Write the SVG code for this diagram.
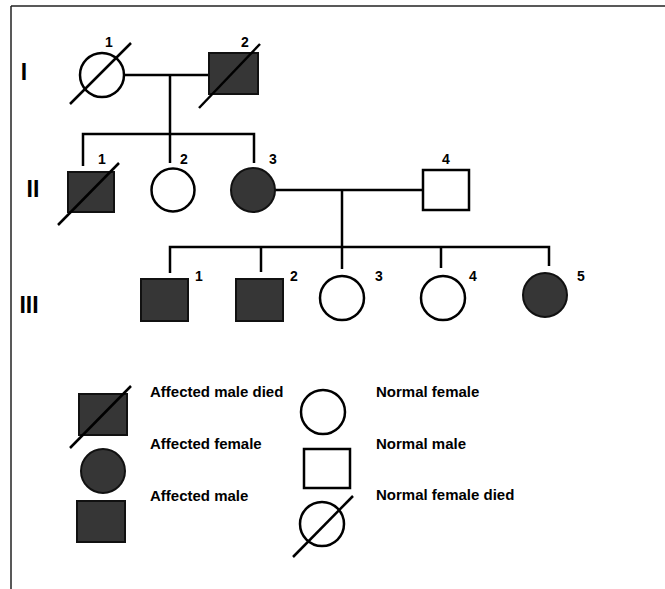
<svg xmlns="http://www.w3.org/2000/svg" width="665" height="589" viewBox="0 0 665 589">
<style>
.ln{stroke:#000;stroke-width:2.5;fill:none}
.open{stroke:#000;stroke-width:2.5;fill:#fff}
.aff{stroke:#111;stroke-width:2;fill:#363636}
.sl{stroke:#000;stroke-width:2.5}
.num{font-family:"Liberation Sans",Arial,sans-serif;font-weight:bold;font-size:14px;fill:#000}
.gen{font-family:"Liberation Sans",Arial,sans-serif;font-weight:bold;font-size:23px;fill:#000}
.lg{font-family:"Liberation Sans",Arial,sans-serif;font-weight:bold;font-size:15px;fill:#000}
</style>
<rect width="665" height="589" fill="#fff"/>
<g id="frame">
<line x1="11" y1="6" x2="665" y2="6" stroke="#222" stroke-width="1.5"/>
<line x1="11" y1="6" x2="11" y2="589" stroke="#222" stroke-width="1.5"/>
</g>
<g id="generations">
<text class="gen" x="24" y="80" text-anchor="middle">I</text>
<text class="gen" x="33" y="197" text-anchor="middle">II</text>
<text class="gen" x="29" y="313" text-anchor="middle">III</text>
</g>
<g id="connectors">
<line class="ln" x1="125" y1="75" x2="209" y2="75"/>
<line class="ln" x1="170" y1="75" x2="170" y2="134"/>
<polyline class="ln" points="83,166 83,134 254,134 254,163"/>
<line class="ln" x1="170" y1="134" x2="170" y2="163"/>
<line class="ln" x1="275" y1="190" x2="423" y2="190"/>
<line class="ln" x1="342" y1="190" x2="342" y2="269"/>
<polyline class="ln" points="170,273 170,247 549,247 549,266"/>
<line class="ln" x1="261" y1="247" x2="261" y2="272"/>
<line class="ln" x1="441" y1="247" x2="441" y2="268"/>
</g>
<g id="I-1">
<circle class="open" cx="102" cy="75" r="22"/>
<line class="sl" x1="70" y1="104" x2="131" y2="43"/>
<text class="num" x="109" y="47" text-anchor="middle">1</text>
</g>
<g id="I-2">
<rect class="aff" x="209" y="53" width="49" height="41"/>
<line class="sl" x1="199" y1="108" x2="260" y2="44"/>
<text class="num" x="245" y="47" text-anchor="middle">2</text>
</g>
<g id="II-1">
<rect class="aff" x="68" y="172" width="46" height="40"/>
<line class="sl" x1="58" y1="225" x2="119" y2="163"/>
<text class="num" x="102" y="164" text-anchor="middle">1</text>
</g>
<g id="II-2">
<circle class="open" cx="173" cy="190" r="21.5"/>
<text class="num" x="184" y="164" text-anchor="middle">2</text>
</g>
<g id="II-3">
<circle class="aff" cx="253" cy="190" r="22"/>
<text class="num" x="273" y="164" text-anchor="middle">3</text>
</g>
<g id="II-4">
<rect class="open" x="423" y="170" width="46" height="40"/>
<text class="num" x="446" y="164" text-anchor="middle">4</text>
</g>
<g id="III-1">
<rect class="aff" x="141" y="279" width="47" height="42"/>
<text class="num" x="199" y="281" text-anchor="middle">1</text>
</g>
<g id="III-2">
<rect class="aff" x="236" y="279" width="47" height="42"/>
<text class="num" x="294" y="281" text-anchor="middle">2</text>
</g>
<g id="III-3">
<circle class="open" cx="342" cy="298" r="22"/>
<text class="num" x="379" y="281" text-anchor="middle">3</text>
</g>
<g id="III-4">
<circle class="open" cx="443" cy="298" r="22"/>
<text class="num" x="473" y="281" text-anchor="middle">4</text>
</g>
<g id="III-5">
<circle class="aff" cx="545" cy="295" r="22"/>
<text class="num" x="581" y="281" text-anchor="middle">5</text>
</g>
<g id="legend-affected-male-died">
<rect class="aff" x="79" y="394" width="48" height="41"/>
<line class="sl" x1="70" y1="448" x2="131" y2="386"/>
<text class="lg" x="150" y="397">Affected male died</text>
</g>
<g id="legend-affected-female">
<circle class="aff" cx="103" cy="471" r="22"/>
<text class="lg" x="150" y="449">Affected female</text>
</g>
<g id="legend-affected-male">
<rect class="aff" x="77" y="501" width="48" height="41"/>
<text class="lg" x="150" y="501">Affected male</text>
</g>
<g id="legend-normal-female">
<circle class="open" cx="323" cy="412" r="22"/>
<text class="lg" x="376" y="397">Normal female</text>
</g>
<g id="legend-normal-male">
<rect class="open" x="304" y="449" width="46" height="39"/>
<text class="lg" x="376" y="449">Normal male</text>
</g>
<g id="legend-normal-female-died">
<circle class="open" cx="322" cy="524" r="22"/>
<line class="sl" x1="293" y1="557" x2="353" y2="496"/>
<text class="lg" x="376" y="500">Normal female died</text>
</g>
</svg>
